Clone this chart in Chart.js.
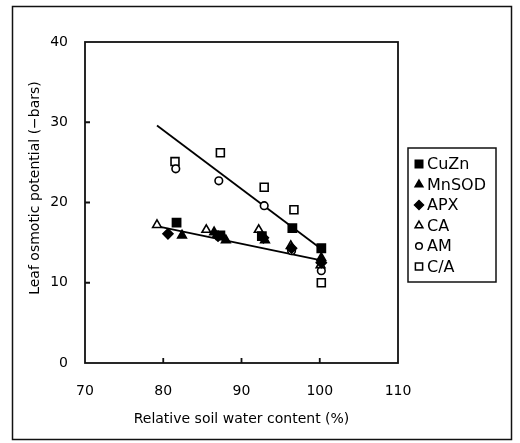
<!DOCTYPE html>
<html>
<head>
<meta charset="utf-8">
<script src="https://cdn.jsdelivr.net/npm/chart.js@4/dist/chart.umd.min.js"></script>
<style>body{margin:0;background:#fff}</style>
</head>
<body>
<canvas id="osmChart" width="520" height="443"></canvas>
<script>
// relative soil water content (%), leaf osmotic potential (-bars)
const cuzn  = [[81.7,17.5],[87.3,15.9],[92.6,15.8],[96.5,16.8],[100.2,14.3]];
const mnsod = [[82.4,15.9],[86.5,16.3],[88.0,15.3],[93.0,15.3],[100.2,13.1]];
const apx   = [[80.6,16.1],[87.0,15.8],[92.8,15.6],[96.4,14.3],[100.2,12.5]];
const ca    = [[79.2,17.2],[85.5,16.6],[92.2,16.6],[96.3,14.6],[100.1,12.2]];
const am    = [[81.6,24.2],[87.1,22.7],[92.9,19.6],[96.4,14.0],[100.2,11.5]];
const ctoa  = [[81.5,25.1],[87.3,26.2],[92.9,21.9],[96.7,19.1],[100.2,10.0]];
const fitHigh = [[79.2,29.6],[100.2,14.2]];
const fitLow  = [[79.0,17.1],[100.2,12.8]];
const xTicks = [70, 80, 90, 100, 110];
const yTicks = [0, 10, 20, 30, 40];
const yTitle = 'Leaf osmotic potential (\u2212bars)';

const font = 'DejaVu Sans, sans-serif';
const pts = arr => arr.map(p => ({x: p[0], y: p[1]}));

const marker = (label, data, style, r, filled) => ({
    label, data: pts(data), pointStyle: style, pointRadius: r, pointHoverRadius: r,
    backgroundColor: filled ? '#000' : '#fff', borderColor: '#000', borderWidth: 1.6
});
const fitLine = data => ({
    label: '', data: pts(data), showLine: true, pointRadius: 0,
    borderColor: '#000', borderWidth: 1.8, fill: false
});

const markers = [
    marker('CuZn', cuzn, 'rect', 5.8, true),
    marker('MnSOD', mnsod, 'triangle', 5, true),
    marker('APX', apx, 'rectRot', 5, true),
    marker('CA', ca, 'triangle', 5, false),
    marker('AM', am, 'circle', 3.8, false),
    marker('C/A', ctoa, 'rect', 5.6, false)
];

const framePlugin = {
    id: 'frame',
    beforeDraw(c) {
        const ctx = c.ctx;
        ctx.save();
        ctx.fillStyle = '#fff';
        ctx.fillRect(0, 0, c.width, c.height);
        ctx.restore();
    },
    afterDraw(c) {
        const {ctx, chartArea: a, scales: {x, y}} = c;
        ctx.save();
        ctx.strokeStyle = '#111';
        ctx.lineWidth = 1.5;
        ctx.strokeRect(12.5, 6.5, 499, 433);
        ctx.lineWidth = 1.8;
        ctx.strokeRect(a.left, a.top, a.right - a.left, a.bottom - a.top);
        ctx.beginPath();
        xTicks.slice(1, -1).forEach(v => {
            const px = x.getPixelForValue(v);
            ctx.moveTo(px, a.bottom); ctx.lineTo(px, a.bottom - 5);
        });
        yTicks.slice(1, -1).forEach(v => {
            const py = y.getPixelForValue(v);
            ctx.moveTo(a.left, py); ctx.lineTo(a.left + 5, py);
        });
        ctx.stroke();

        // y axis title
        ctx.save();
        ctx.translate(35, 188);
        ctx.rotate(-Math.PI / 2);
        ctx.font = '14px ' + font;
        ctx.fillStyle = '#000';
        ctx.textAlign = 'center';
        ctx.textBaseline = 'middle';
        ctx.fillText(yTitle, 0, 0);
        ctx.restore();

        // legend box
        ctx.lineWidth = 1.5;
        ctx.strokeRect(408, 148, 88, 134);
        ctx.font = '16px ' + font;
        ctx.textBaseline = 'middle';
        markers.forEach((m, i) => {
            const cy = 164 + i * 20.5;
            ctx.fillStyle = m.backgroundColor;
            ctx.strokeStyle = '#000';
            ctx.lineWidth = 1.5;
            Chart.helpers.drawPoint(ctx, {pointStyle: m.pointStyle, radius: m.pointRadius - 0.5, rotation: 0, borderWidth: 1.5}, 419, cy);
            ctx.fillStyle = '#000';
            ctx.fillText(m.label, 427, cy + 1);
        });
        ctx.restore();
    }
};

new Chart('osmChart', {
    type: 'scatter',
    data: {datasets: [...markers, fitLine(fitHigh), fitLine(fitLow)]},
    options: {
        responsive: false,
        animation: false,
        devicePixelRatio: 1,
        layout: {padding: {left: 0, top: 42, right: 122, bottom: 0}},
        plugins: {legend: {display: false}, tooltip: {enabled: false}},
        scales: {
            x: {
                type: 'linear', min: 70, max: 110,
                afterBuildTicks: s => { s.ticks = xTicks.map(v => ({value: v})); },
                afterFit: s => { s.height = 80; },
                grid: {display: false, drawTicks: false},
                border: {display: false},
                ticks: {color: '#000', font: {size: 14, family: font}, padding: 20},
                title: {display: true, text: 'Relative soil water content (%)', color: '#000',
                        font: {size: 14, family: font}, padding: {top: 0, bottom: 15}}
            },
            y: {
                type: 'linear', min: 0, max: 40,
                afterBuildTicks: s => { s.ticks = yTicks.map(v => ({value: v})); },
                afterFit: s => { s.width = 85; },
                grid: {display: false, drawTicks: false},
                border: {display: false},
                ticks: {color: '#000', font: {size: 14, family: font}, padding: 17}
            }
        }
    },
    plugins: [framePlugin]
});
</script>
</body>
</html>
